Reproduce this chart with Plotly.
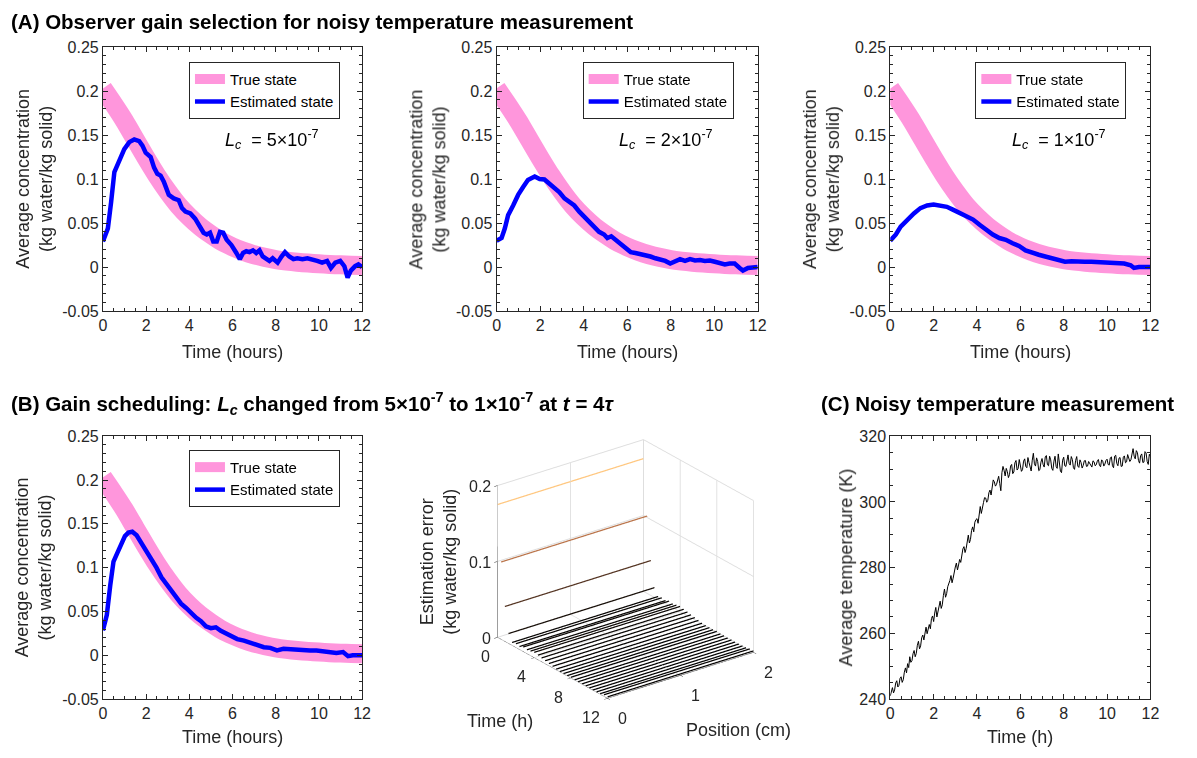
import plotly.graph_objects as go

W, H = 1197, 758
FONT = "Liberation Sans, Arial, sans-serif"
AXC = "#262626"

# ---------------- data ----------------
t_true = [0, 0.5, 1, 1.5, 2, 2.5, 3, 3.5, 4, 4.5, 5, 5.5, 6, 6.5, 7, 7.5, 8, 8.5, 9, 9.5, 10, 10.5, 11, 11.5, 12]
c_true = [0.203, 0.185, 0.166, 0.145, 0.124, 0.104, 0.086, 0.070, 0.057, 0.046, 0.037, 0.029, 0.023, 0.018,
          0.014, 0.011, 0.0085, 0.0068, 0.0055, 0.0045, 0.0037, 0.003, 0.0025, 0.002, 0.0017]

t_est1 = [0, 0.23, 0.38, 0.53, 0.69, 0.84, 0.99, 1.22, 1.45, 1.68, 1.83, 1.98, 2.21, 2.37, 2.52, 2.67, 2.82,
          3.05, 3.28, 3.51, 3.66, 3.82, 4.05, 4.27, 4.43, 4.66, 4.81, 4.96, 5.11, 5.27, 5.42, 5.57, 5.73, 5.95,
          6.18, 6.34, 6.49, 6.64, 6.79, 6.95, 7.1, 7.25, 7.4, 7.56, 7.71, 7.86, 8.09, 8.27, 8.43, 8.63, 8.82,
          9.0, 9.24, 9.47, 9.69, 9.92, 10.15, 10.38, 10.56, 10.76, 10.99, 11.18, 11.33, 11.48, 11.68, 11.83, 12.0]
c_est1 = [0.029, 0.044, 0.074, 0.108, 0.117, 0.125, 0.134, 0.142, 0.145, 0.143, 0.138, 0.130, 0.125, 0.113,
          0.106, 0.104, 0.097, 0.082, 0.078, 0.076, 0.067, 0.063, 0.061, 0.055, 0.048, 0.039, 0.037, 0.039,
          0.029, 0.029, 0.040, 0.039, 0.031, 0.025, 0.016, 0.009, 0.016, 0.018, 0.017, 0.019, 0.016, 0.019,
          0.012, 0.009, 0.007, 0.010, 0.005, 0.012, 0.017, 0.012, 0.009, 0.010, 0.009, 0.010, 0.009, 0.007,
          0.005, 0.007, -0.001, 0.005, 0.007, 0.001, -0.012, -0.004, 0.001, 0.003, 0.0]

t_est2 = [0, 0.23, 0.38, 0.53, 0.76, 0.99, 1.22, 1.44, 1.75, 1.98, 2.2, 2.43, 2.66, 2.89, 3.12, 3.34, 3.57,
          3.8, 4.03, 4.26, 4.48, 4.71, 4.94, 5.09, 5.27, 5.47, 5.7, 5.93, 6.16, 6.38, 6.61, 6.84, 7.07, 7.3,
          7.52, 7.75, 7.98, 8.21, 8.43, 8.66, 8.89, 9.12, 9.35, 9.57, 9.8, 10.03, 10.26, 10.49, 10.71, 10.94,
          11.17, 11.32, 11.55, 11.78, 12.0]
c_est2 = [0.030, 0.033, 0.044, 0.059, 0.070, 0.082, 0.091, 0.099, 0.103, 0.100, 0.0996, 0.095, 0.091, 0.085,
          0.078, 0.074, 0.070, 0.063, 0.057, 0.052, 0.046, 0.040, 0.037, 0.033, 0.035, 0.031, 0.027, 0.022,
          0.017, 0.016, 0.015, 0.014, 0.012, 0.010, 0.009, 0.007, 0.004, 0.006, 0.009, 0.007, 0.009, 0.0075,
          0.008, 0.007, 0.0075, 0.006, 0.005, 0.003, 0.004, 0.004, -0.001, -0.004, -0.001, 0.0, 0.0]

t_est3 = [0, 0.26, 0.48, 0.79, 1.09, 1.39, 1.7, 2.0, 2.3, 2.61, 2.91, 3.21, 3.52, 3.82, 4.12, 4.42, 4.73,
          5.03, 5.33, 5.64, 5.94, 6.24, 6.55, 6.85, 7.15, 7.45, 7.76, 8.06, 8.36, 8.67, 8.97, 9.27, 9.58,
          9.88, 10.18, 10.48, 10.79, 11.09, 11.24, 11.47, 11.77, 12.0]
c_est3 = [0.030, 0.037, 0.046, 0.054, 0.061, 0.067, 0.070, 0.071, 0.070, 0.0685, 0.065, 0.061, 0.057, 0.054,
          0.048, 0.042, 0.037, 0.033, 0.031, 0.027, 0.024, 0.019, 0.016, 0.014, 0.012, 0.0097, 0.0075, 0.006,
          0.0067, 0.006, 0.006, 0.006, 0.0056, 0.006, 0.005, 0.004, 0.004, 0.002, -0.001, 0.0, 0.0007, 0.0]

t_estB = [0, 0.18, 0.34, 0.49, 0.69, 0.87, 1.02, 1.18, 1.36, 1.56, 1.79, 2.02, 2.25, 2.48, 2.71, 2.94, 3.17,
          3.39, 3.62, 3.85, 4.08, 4.31, 4.54, 4.77, 5.0, 5.23, 5.46, 5.69, 5.92, 6.22, 6.53, 6.76, 6.99, 7.22,
          7.45, 7.75, 8.06, 8.36, 8.67, 8.98, 9.28, 9.59, 9.89, 10.2, 10.5, 10.81, 11.12, 11.35, 11.57, 11.8, 12.0]
c_estB = [0.0285, 0.046, 0.080, 0.107, 0.118, 0.128, 0.136, 0.140, 0.141, 0.137, 0.128, 0.118, 0.109, 0.100,
          0.089, 0.081, 0.074, 0.067, 0.059, 0.054, 0.048, 0.043, 0.039, 0.033, 0.031, 0.032, 0.028, 0.025,
          0.021, 0.0185, 0.0167, 0.0148, 0.013, 0.011, 0.0093, 0.0085, 0.0056, 0.0074, 0.0067, 0.0063, 0.0063,
          0.0056, 0.0056, 0.0048, 0.0037, 0.0026, 0.0037, -0.001, 0.0, 0.0, 0.0]

# 3-D estimation error (one line per time instant, constant along position)
t_err = [0, 0.4, 0.8, 1.2, 1.6, 2.0, 2.4, 2.8, 3.2, 3.6, 4.0, 4.4, 4.8, 5.2, 5.6, 6.0, 6.4, 6.8, 7.2, 7.6,
         8.0, 8.4, 8.8, 9.2, 9.6, 10.0, 10.4, 10.8, 11.2, 11.6, 12.0]
err = [0.175, 0.102, 0.046, 0.013, 0.004, 0.005, 0.004, 0.006, 0.005, 0.006, 0.007, 0.006, 0.005, 0.004,
       0.003, 0.002, 0.001, 0.0005, 0.0005, 0.0005, 0.001, 0.0003, 0.0005, 0.0003, 0.0003, 0.0003, 0.0003,
       0.0005, 0.0008, 0.002, 0.002]
pos_cm = [0, 0.5, 1.0, 1.5, 2.0]

# Noisy temperature measurement (every 0.05 h)
t_temp = [round(0.05 * i, 2) for i in range(241)]
T_meas = [241.0, 242.6, 243.5, 241.9, 242.8, 244.9, 245.6, 243.7, 244.2, 246.3,
          246.8, 245.1, 245.9, 248.2, 249.5, 248.0, 250.8, 249.6, 252.9, 251.2,
          251.7, 253.8, 254.8, 252.9, 253.9, 256.4, 257.6, 255.3, 256.2, 258.7,
          259.5, 258.0, 260.8, 261.9, 259.9, 262.0, 262.7, 261.4, 264.5, 265.3,
          263.6, 266.2, 267.9, 265.0, 266.5, 268.4, 269.8, 267.6, 268.7, 271.5,
          273.5, 271.0, 272.1, 274.2, 274.9, 276.1, 277.6, 275.4, 276.8, 278.9,
          280.2, 281.4, 279.3, 280.8, 282.5, 281.6, 283.9, 285.7, 286.4, 284.6,
          285.8, 288.1, 289.9, 287.5, 288.6, 291.3, 292.4, 290.9, 293.8, 294.6,
          294.9, 293.5, 297.3, 298.6, 296.5, 298.9, 299.8, 301.3, 301.2, 299.9,
          300.5, 302.8, 303.6, 302.1, 304.4, 306.7, 306.1, 304.8, 305.3, 307.2,
          307.8, 305.6, 303.4, 308.9, 310.8, 309.6, 307.9, 310.2, 309.2, 307.4,
          308.3, 310.9, 311.4, 308.6, 309.1, 311.9, 312.6, 309.7, 310.2, 312.9,
          311.5, 309.3, 309.8, 312.4, 313.1, 310.8, 310.4, 313.5, 312.0, 310.1,
          309.4, 312.7, 314.8, 311.6, 310.9, 313.4, 312.3, 309.5, 309.8, 312.1,
          313.2, 311.4, 310.6, 313.7, 314.1, 311.3, 311.0, 313.9, 312.8, 310.2,
          309.6, 312.4, 313.9, 310.8, 310.2, 314.6, 312.5, 309.3, 308.9, 312.7,
          313.6, 311.0, 310.8, 313.1, 314.3, 311.7, 311.2, 313.8, 312.9, 310.4,
          309.9, 312.6, 313.8, 310.9, 310.5, 312.8, 312.0, 310.3, 311.1, 312.5,
          312.6, 310.8, 310.9, 312.3, 311.8, 310.9, 310.6, 312.5, 312.2, 311.0,
          311.3, 312.4, 312.9, 311.1, 310.7, 312.8, 312.4, 310.9, 311.5, 312.6,
          313.0, 311.4, 311.2, 313.4, 313.7, 311.0, 310.4, 313.9, 314.2, 311.7,
          311.0, 313.3, 313.5, 310.8, 310.9, 313.6, 314.0, 311.9, 312.2, 314.4,
          313.6, 312.3, 312.8, 314.9, 316.2, 313.9, 313.1, 315.6, 315.0, 312.6,
          311.8, 314.1, 314.6, 312.0, 312.1, 315.3, 314.9, 312.3, 311.4, 314.5,
          313.8]

gain_labels = ["5", "2", "1"]
conc_ticks = [-0.05, 0, 0.05, 0.1, 0.15, 0.2, 0.25]
conc_ticktext = ["-0.05", "0", "0.05", "0.1", "0.15", "0.2", "0.25"]

# ---------------- helpers ----------------
PINK = "#FF96DC"
BLUE = "#0000FF"


def px_x(p):
    return p / W


def px_y(p):
    return 1 - p / H


def axis(dom, rng, dtick, minor_dtick, anchor, tickvals=None, ticktext=None):
    d = dict(domain=dom, range=rng, anchor=anchor, showline=True, linecolor=AXC,
             linewidth=1, mirror="ticks", ticks="inside", ticklen=5, tickcolor=AXC,
             tickfont=dict(family=FONT, size=16, color=AXC), showgrid=False, zeroline=False,
             minor=dict(ticks="inside", ticklen=3, tickcolor=AXC, dtick=minor_dtick),
             fixedrange=True)
    if tickvals is not None:
        d["tickvals"] = tickvals
        d["ticktext"] = ticktext
    else:
        d["dtick"] = dtick
    return d


fig = go.Figure()

conc_panels = [
    ("x", "y", "legend", t_est1, c_est1),
    ("x2", "y2", "legend2", t_est2, c_est2),
    ("x3", "y3", "legend3", t_est3, c_est3),
    ("x4", "y4", "legend4", t_estB, c_estB),
]
for xa, ya, lg, te, ce in conc_panels:
    fig.add_trace(go.Scatter(x=t_true, y=c_true, mode="lines", name="True state",
                             line=dict(color=PINK, width=19, shape="spline", smoothing=0.6),
                             xaxis=xa, yaxis=ya, legend=lg, hoverinfo="skip"))
    fig.add_trace(go.Scatter(x=te, y=ce, mode="lines", name="Estimated state",
                             line=dict(color=BLUE, width=4.5),
                             xaxis=xa, yaxis=ya, legend=lg, hoverinfo="skip"))

fig.add_trace(go.Scatter(x=t_temp, y=T_meas, mode="lines", line=dict(color="black", width=1),
                         xaxis="x5", yaxis="y5", showlegend=False, hoverinfo="skip"))

# 3-D waterfall
copper = [[0.0, "rgb(0,0,0)"], [0.8, "rgb(255,159,102)"], [1.0, "rgb(255,199,127)"]]
emax = max(err)
for tk, ek in zip(t_err, err):
    fig.add_trace(go.Scatter3d(x=[tk] * len(pos_cm), y=pos_cm, z=[ek] * len(pos_cm), mode="lines",
                               line=dict(color=[ek] * len(pos_cm), colorscale=copper, cmin=0, cmax=emax,
                                         width=2.5),
                               showlegend=False, hoverinfo="skip"))

# ---------------- layout ----------------
xA = [(100, 362), (498, 762), (896, 1159)]
rowA = (40, 310)
rowB = (438, 707)

lay = dict(width=W, height=H, margin=dict(l=0, r=0, t=0, b=0), paper_bgcolor="white",
           plot_bgcolor="white", font=dict(family=FONT, color=AXC))
names = ["", "2", "3"]
for i, (x0, x1) in enumerate(xA):
    n = names[i]
    lay["xaxis" + n] = axis([px_x(x0), px_x(x1)], [0, 12], 2, 0.5, "y" + n)
    lay["yaxis" + n] = axis([px_y(rowA[1]), px_y(rowA[0])], [-0.05, 0.25], 0.05, 0.01, "x" + n,
                            conc_ticks, conc_ticktext)
lay["xaxis4"] = axis([px_x(100), px_x(362)], [0, 12], 2, 0.5, "y4")
lay["yaxis4"] = axis([px_y(rowB[1]), px_y(rowB[0])], [-0.05, 0.25], 0.05, 0.01, "x4",
                     conc_ticks, conc_ticktext)
lay["xaxis5"] = axis([px_x(896), px_x(1159)], [0, 12], 2, 0.5, "y5")
lay["yaxis5"] = axis([px_y(rowB[1]), px_y(rowB[0])], [240, 320], 20, 5, "x5")

leg_common = dict(xanchor="left", yanchor="top", bordercolor=AXC, borderwidth=1, bgcolor="white",
                  font=dict(family=FONT, size=15, color="black"), itemwidth=30, tracegroupgap=0)
lay["legend"] = dict(x=px_x(187), y=px_y(55), **leg_common)
lay["legend2"] = dict(x=px_x(585), y=px_y(55), **leg_common)
lay["legend3"] = dict(x=px_x(982), y=px_y(55), **leg_common)
lay["legend4"] = dict(x=px_x(187), y=px_y(452), **leg_common)

scene_ax = dict(showbackground=False, showgrid=True, gridcolor="#dedede", showline=True, linecolor=AXC,
                zeroline=False, showspikes=False, ticks="outside", tickcolor=AXC, ticklen=4,
                showticklabels=False, title=dict(text=""))
SF = dict(family=FONT, size=16, color=AXC)
s_ann = []
for v, s in zip([0, 0.1, 0.2], ["0", "0.1", "0.2"]):
    s_ann.append(dict(x=0, y=0, z=v, text=s, showarrow=False, xanchor="right", yanchor="middle",
                      xshift=-5, font=SF))
for v in [0, 4, 8, 12]:
    s_ann.append(dict(x=v, y=0, z=0, text=str(v), showarrow=False, xanchor="right", yanchor="top",
                      xshift=-6, yshift=-8, font=SF))
for v in [0, 1, 2]:
    s_ann.append(dict(x=12, y=v, z=0, text=str(v), showarrow=False, xanchor="left", yanchor="top",
                      xshift=8, yshift=-9, font=SF))
LF = dict(family=FONT, size=18, color=AXC)
s_ann.append(dict(x=0, y=0, z=0.1, text="Estimation error<br>(kg water/kg solid)", showarrow=False,
                  textangle=-90, xanchor="center", yanchor="middle", xshift=-60, font=LF))
s_ann.append(dict(x=6, y=0, z=0, text="Time (h)", showarrow=False, xanchor="center", yanchor="middle",
                  xshift=-53, yshift=-52, font=LF))
s_ann.append(dict(x=12, y=1, z=0, text="Position (cm)", showarrow=False, xanchor="center",
                  yanchor="middle", xshift=58, yshift=-54, font=LF))

lay["scene"] = dict(
    domain=dict(x=[px_x(431), px_x(826)], y=[px_y(722), px_y(427)]),
    xaxis=dict(range=[0, 12], tickvals=[0, 4, 8, 12], **scene_ax),
    yaxis=dict(range=[0, 2], tickvals=[0, 1, 2], **scene_ax),
    zaxis=dict(range=[0, 0.2], tickvals=[0, 0.1, 0.2], **scene_ax),
    aspectmode="manual", aspectratio=dict(x=1.27, y=1.27, z=1.16),
    camera=dict(eye=dict(x=0.799 * 1.5, y=-0.602 * 1.5, z=0.46 * 1.5), center=dict(x=0, y=0, z=0),
                up=dict(x=0, y=0, z=1), projection=dict(type="orthographic")),
    annotations=s_ann,
    bgcolor="white")

ann = []
TF = dict(family=FONT, size=20.5, color="black")
ann.append(dict(x=px_x(5), y=px_y(14), xref="paper", yref="paper", xanchor="left", yanchor="middle",
                showarrow=False, font=TF,
                text="<b>(A) Observer gain selection for noisy temperature measurement</b>"))
ann.append(dict(x=px_x(5), y=px_y(405), xref="paper", yref="paper", xanchor="left", yanchor="middle",
                showarrow=False, font=TF,
                text="<b>(B) Gain scheduling: <i>L<sub>c</sub></i> changed from 5×10<sup>-7</sup> to "
                     "1×10<sup>-7</sup> at <i>t</i> = 4<i>τ</i></b>"))
ann.append(dict(x=px_x(1185), y=px_y(405), xref="paper", yref="paper", xanchor="right", yanchor="middle",
                showarrow=False, font=TF, text="<b>(C) Noisy temperature measurement</b>"))

ylab = "Average concentration<br>(kg water/kg solid)"
for cx in [30, 428, 826]:
    ann.append(dict(x=px_x(cx), y=px_y((rowA[0] + rowA[1]) / 2), xref="paper", yref="paper", textangle=-90,
                    showarrow=False, font=LF, text=ylab, xanchor="center", yanchor="middle"))
ann.append(dict(x=px_x(30), y=px_y((rowB[0] + rowB[1]) / 2), xref="paper", yref="paper", textangle=-90,
                showarrow=False, font=LF, text=ylab, xanchor="center", yanchor="middle"))
ann.append(dict(x=px_x(851), y=px_y((rowB[0] + rowB[1]) / 2), xref="paper", yref="paper", textangle=-90,
                showarrow=False, font=LF, text="Average temperature (K)", xanchor="center", yanchor="middle"))
for x0, x1 in xA:
    ann.append(dict(x=px_x((x0 + x1) / 2), y=px_y(352), xref="paper", yref="paper", showarrow=False,
                    font=LF, text="Time (hours)", xanchor="center", yanchor="middle"))
ann.append(dict(x=px_x(231), y=px_y(746), xref="paper", yref="paper", showarrow=False, font=LF,
                text="Time (hours)", xanchor="center", yanchor="middle"))
ann.append(dict(x=px_x(1027), y=px_y(746), xref="paper", yref="paper", showarrow=False, font=LF,
                text="Time (h)", xanchor="center", yanchor="middle"))
# gain annotations
for i, (x0, x1) in enumerate(xA):
    ann.append(dict(x=px_x(x0 + 171), y=px_y(135), xref="paper", yref="paper", showarrow=False,
                    xanchor="center", yanchor="middle",
                    font=dict(family=FONT, size=18, color="black"),
                    text="<i>L<sub>c</sub></i>  = " + gain_labels[i] + "×10<sup>-7</sup>"))

lay["annotations"] = ann
fig.update_layout(**lay)
fig.write_html("out.html", config={"displayModeBar": False},
               post_script="document.body.style.margin='0px';")
